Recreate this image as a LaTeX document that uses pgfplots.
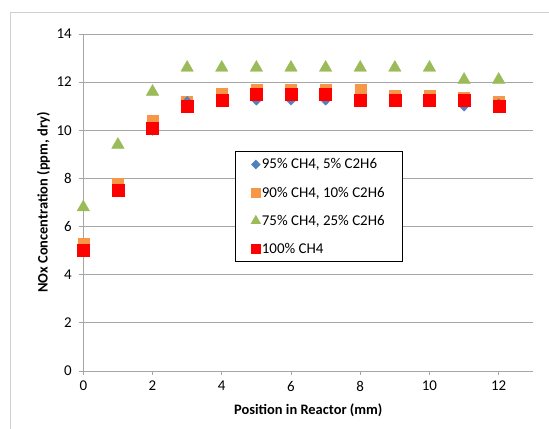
\documentclass[border=0pt]{standalone}
\usepackage{pgfplots}
\pgfplotsset{compat=1.18}
\usepackage{fontspec}
\setmainfont{Carlito}
\definecolor{sblue}{HTML}{4F81BD}
\definecolor{sorange}{HTML}{F79646}
\definecolor{sgreen}{HTML}{9BBB59}
\definecolor{sred}{HTML}{FF0000}
\definecolor{gridgray}{HTML}{A6A6A6}
\definecolor{framegray}{HTML}{D0D0D0}
\begin{document}
\begin{tikzpicture}[x=1bp,y=1bp]
\useasboundingbox (0,0) rectangle (549,428);
\draw[framegray, line width=0.8bp] (10,-5) -- (10,416) -- (560,416);
\begin{axis}[
  at={(83.3bp,57bp)}, anchor=south west,
  scale only axis, width=450bp, height=337bp,
  xmin=0, xmax=13, ymin=0, ymax=14,
  xtick={0,2,...,12}, ytick={0,2,...,14},
  axis lines=left, axis line style={-, color=gridgray, line width=0.8bp},
  ymajorgrids, grid style={gridgray, line width=0.8bp},
  tick align=outside, major tick length=4bp,
  tick style={gridgray, line width=0.8bp},
  tick label style={font=\fontsize{15}{17}\selectfont},
  yticklabel style={xshift=-4bp},
  xticklabel style={yshift=-2.5bp},
  /pgf/number format/assume math mode=true,
  xlabel={Position in Reactor (mm)},
  ylabel={NOx Concentration (ppm, dry)},
  label style={font=\bfseries\fontsize{14.5}{17}\selectfont},
  xlabel style={at={(axis description cs:0.5,-0.1157)}, anchor=center},
  ylabel style={at={(axis description cs:-0.0889,0.5)}, anchor=center},
  legend style={at={(axis description cs:0.337,0.652)}, anchor=north west,
    draw=black, line width=0.8bp, font=\fontsize{15}{17}\selectfont,
    row sep=12.5bp, inner xsep=16bp, inner ysep=5bp,
    nodes={inner xsep=1.5bp}},
  legend cell align=left,
  legend image code/.code={\draw[#1] plot coordinates {(0bp,0bp)};},
]
\addlegendimage{only marks, mark=diamond*, mark size=4.2bp, mark options={xscale=1.3}, color=sblue}
\addlegendentry{95\% CH4, 5\% C2H6}
\addlegendimage{only marks, mark=square*, mark size=4.5bp, color=sorange}
\addlegendentry{90\% CH4, 10\% C2H6}
\addlegendimage{only marks, mark=triangle*, mark size=5.2bp, color=sgreen}
\addlegendentry{75\% CH4, 25\% C2H6}
\addlegendimage{only marks, mark=square*, mark size=4.5bp, color=sred}
\addlegendentry{100\% CH4}
\addplot[forget plot, only marks, mark=square*, mark size=5.5bp, color=sorange] coordinates {
(0,5.3) (1,7.8) (2,10.4) (3,11.2) (4,11.5) (5,11.7) (6,11.7) (7,11.7) (8,11.7) (9,11.45) (10,11.45) (11,11.35) (12,11.2)};
\addplot[forget plot, only marks, mark=diamond*, mark size=5bp, mark options={xscale=1.3}, color=sblue] coordinates {
(0,5.0) (1,7.5) (2,10.0) (3,11.2) (4,11.3) (5,11.25) (6,11.25) (7,11.25) (8,11.3) (9,11.3) (10,11.3) (11,11.0) (12,11.1)};
\addplot[forget plot, only marks, mark=triangle*, mark size=7.2bp, color=sgreen] coordinates {
(0,6.8) (1,9.4) (2,11.6) (3,12.6) (4,12.6) (5,12.6) (6,12.6) (7,12.6) (8,12.6) (9,12.6) (10,12.6) (11,12.1) (12,12.1)};
\addplot[forget plot, only marks, mark=square*, mark size=6bp, color=sred] coordinates {
(0,5.0) (1,7.5) (2,10.1) (3,11.0) (4,11.25) (5,11.5) (6,11.5) (7,11.5) (8,11.25) (9,11.25) (10,11.25) (11,11.25) (12,11.0)};
\end{axis}
\end{tikzpicture}
\end{document}
